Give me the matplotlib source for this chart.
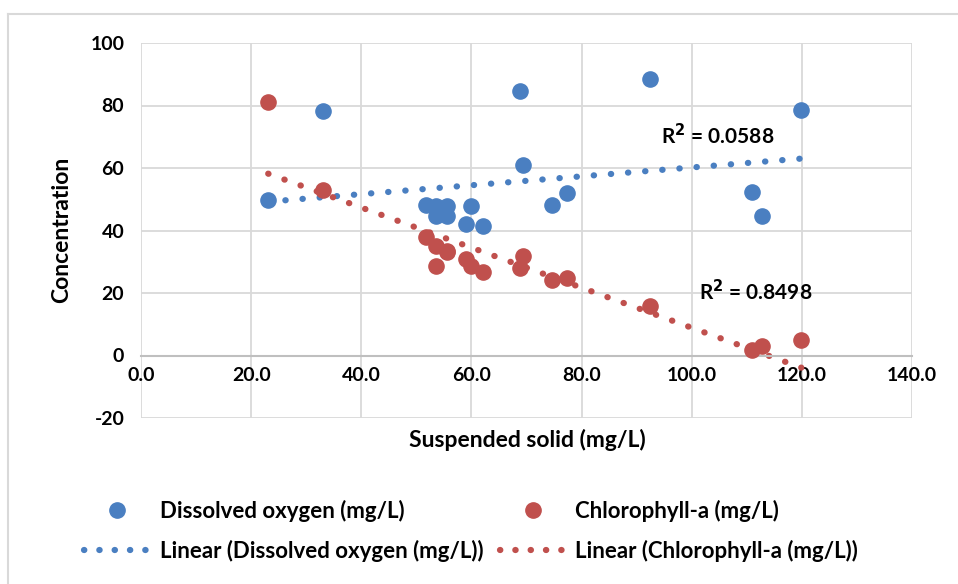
import numpy as np
import matplotlib
matplotlib.use('Agg')
import matplotlib.pyplot as plt
from matplotlib.lines import Line2D

plt.rcParams['font.family'] = ['Lato', 'DejaVu Sans']
plt.rcParams['font.weight'] = 'bold'
plt.rcParams['axes.unicode_minus'] = False

# suspended solid (mg/L)
solids = [23.1, 33.0, 51.8, 53.6, 53.6, 55.5, 55.5, 59.1, 59.9, 62.1,
          68.9, 69.3, 74.7, 77.3, 92.4, 110.9, 112.7, 119.9]
oxygen = [49.7, 78.2, 48.1, 48.0, 44.8, 47.8, 44.8, 42.0, 47.8, 41.6,
          84.8, 60.9, 48.2, 52.1, 88.4, 52.3, 44.5, 78.5]
chloro = [81.0, 53.1, 38.0, 35.0, 28.8, 33.4, 33.0, 30.9, 28.8, 26.8,
          28.1, 31.8, 24.1, 24.7, 15.8, 1.7, 3.0, 5.1]
r2_labels = ['R$^2$ = 0.0588', 'R$^2$ = 0.8498']

blue = '#4a7fc1'
red = '#c0504d'
dots = (0, (0.05, 2.7))

fig = plt.figure(figsize=(9.58, 5.84), dpi=100)
ax = fig.add_axes([141/958, 1-418/584, (912-141)/958, (418-43)/584])

ax.scatter(solids, oxygen, s=120, color=blue, zorder=3)
ax.scatter(solids, chloro, s=120, color=red, zorder=3)

xs = np.array([min(solids), max(solids)])
for ys, c in [(oxygen, blue), (chloro, red)]:
    k, b = np.polyfit(solids, ys, 1)
    ax.plot(xs, k*xs + b, color=c, lw=4.5, linestyle=dots,
            dash_capstyle='round', zorder=2)

ax.text(115.1, 70.5, r2_labels[0], ha='right', va='center', fontsize=15)
ax.text(122.0, 20.5, r2_labels[1], ha='right', va='center', fontsize=15)

ax.set_xlim(0, 140)
ax.set_ylim(-20, 100)
ax.set_xticks(np.arange(0, 141, 20))
ax.set_xticklabels(['%.1f' % v for v in np.arange(0, 141, 20)])
ax.set_yticks(np.arange(-20, 101, 20))
ax.grid(True, color='#d9d9d9', lw=1.3)
ax.set_axisbelow(True)
for s in ['top', 'right', 'left']:
    ax.spines[s].set_visible(False)
ax.spines['bottom'].set_position(('data', 0))
ax.spines['bottom'].set_color('#bfbfbf')
ax.spines['bottom'].set_linewidth(1.5)
ax.tick_params(length=0, labelsize=14, pad=8)
ax.tick_params(axis='y', pad=12)

fig.text(62/958, 1-230/584, 'Concentration', rotation=90, ha='center', va='center', fontsize=16.5)
fig.text(527/958, 1-440/584, 'Suspended solid (mg/L)', ha='center', va='center', fontsize=16.5)

leg_dots = (0, (0.05, 2.4))
handles = [
    Line2D([], [], marker='o', ls='none', color=blue, markersize=11),
    Line2D([], [], color=blue, lw=4.5, linestyle=leg_dots, dash_capstyle='round'),
    Line2D([], [], marker='o', ls='none', color=red, markersize=11),
    Line2D([], [], color=red, lw=4.5, linestyle=leg_dots, dash_capstyle='round'),
]
labels = ['Dissolved oxygen (mg/L)', 'Linear (Dissolved oxygen (mg/L))',
          'Chlorophyll-a (mg/L)', 'Linear (Chlorophyll-a (mg/L))']
fig.legend(handles, labels, ncol=2, loc='upper left', bbox_to_anchor=(84/958, 1-500/584),
           frameon=False, fontsize=16, handlelength=2.95, handletextpad=0.45,
           columnspacing=0.75, labelspacing=0.8, borderaxespad=0, borderpad=0)

# outer chart border
fig.add_artist(plt.Line2D([8/958, 8/958], [0, 1-14/584], color='#d9d9d9', lw=1.5))
fig.add_artist(plt.Line2D([8/958, 1], [1-14/584, 1-14/584], color='#d9d9d9', lw=1.5))

fig.savefig('out.png', dpi=100)
